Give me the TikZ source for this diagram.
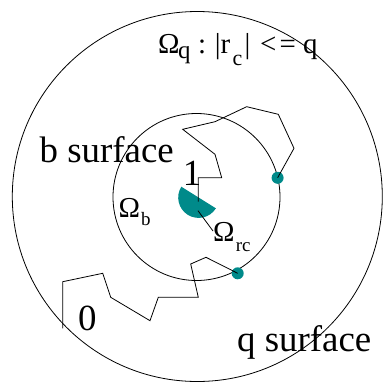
\documentclass[tikz,border=0pt]{standalone}
\usepackage{fontspec}
\setmainfont{Liberation Serif}
\newfontfamily\tms{Liberation Serif}
\definecolor{blobteal}{RGB}{0,138,138}
\newcommand{\lowsub}[3]{\raisebox{-#1bp}{\fontsize{#2}{#2}\selectfont #3}}
\newcommand{\pbox}[2]{\makebox[#1bp][l]{#2}}
\tikzset{
  ring/.style={draw=black, line width=0.8bp},
  walk/.style={draw=black, line width=0.8bp, line join=miter},
  bigtxt/.style={anchor=base west, inner sep=0pt, font=\tms\fontsize{37}{37}\selectfont},
  omtxt/.style={anchor=base west, inner sep=0pt, font=\tms\fontsize{29}{29}\selectfont},
  dotnode/.style={circle, fill=blobteal, inner sep=0pt, minimum size=12bp},
}
\begin{document}
\begin{tikzpicture}[x=1bp, y=-1bp]
\useasboundingbox (0,0) rectangle (383,383);
% circles
\coordinate (cq) at (197.3,196.5);
\coordinate (cb) at (196.5,197);
\draw[ring] (cq) circle[radius=185bp];
\draw[ring] (cb) circle[radius=83.5bp];
% blob (half disc)
\coordinate (bA) at (181.3,186.7);
\fill[blobteal] (bA) arc[start angle=148, end angle=328, radius=20.4bp] -- cycle;
% dots on the b surface
\node[dotnode] (d1) at (277.6,177.8) {};
\node[dotnode] (d2) at (237.7,273.3) {};
% upper walk
\coordinate (u1) at (294,148.3);
\coordinate (u2) at (278.3,114.3);
\coordinate (u3) at (246.7,106.7);
\coordinate (u4) at (215,121.7);
\coordinate (u5) at (182.7,129.3);
\coordinate (u6) at (215,154.3);
\coordinate (u7) at (221.7,177.7);
\coordinate (u8) at (198.2,177.7);
\coordinate (u9) at (198.2,201.7);
\draw[walk] (d1.center) -- (u1) -- (u2) -- (u3) -- (u4) -- (u5) -- (u6) -- (u7) -- (u8) -- (u9);
% lower walk
\coordinate (l1) at (206,257.3);
\coordinate (l2) at (190.7,264);
\coordinate (l3) at (198.3,297.3);
\coordinate (l4) at (158.3,297.3);
\coordinate (l5) at (150,320.7);
\coordinate (l6) at (110.7,297.3);
\coordinate (l7) at (102.7,273.3);
\coordinate (l8) at (62.7,281.7);
\coordinate (l9) at (62.7,328.3);
\draw[walk] (d2.center) -- (l1) -- (l2) -- (l3) -- (l4) -- (l5) -- (l6) -- (l7) -- (l8) -- (l9);
% labels
\node[omtxt] (oq) at (158,53.3) {\pbox{20}{Ω}\pbox{20}{\lowsub{5}{25}{q}}\pbox{16.7}{:}\pbox{5.8}{|}\pbox{12}{r}\pbox{12}{\lowsub{12}{22}{c}}\pbox{15.5}{|}\pbox{19.5}{<}\pbox{23.5}{=}q};
\node[bigtxt] (bs) at (39.5,162.3) {b surface};
\node[bigtxt] (qs) at (237,351.7) {q surface};
\node[bigtxt] (zero) at (78,330) {0};
\node[bigtxt] (one) at (182.6,185) {1};
\node[omtxt] (ob) at (118.5,217.7) {\pbox{22.5}{Ω}\lowsub{7.3}{19}{b}};
\node[omtxt] (orc) at (212.8,241.7) {\pbox{22.8}{Ω}\lowsub{10}{19}{rc}};
% pointer from blob to its label
\coordinate (bp) at (198,210.7);
\coordinate (pe) at (213,231);
\draw[walk] (bp) -- (pe);
\end{tikzpicture}
\end{document}
